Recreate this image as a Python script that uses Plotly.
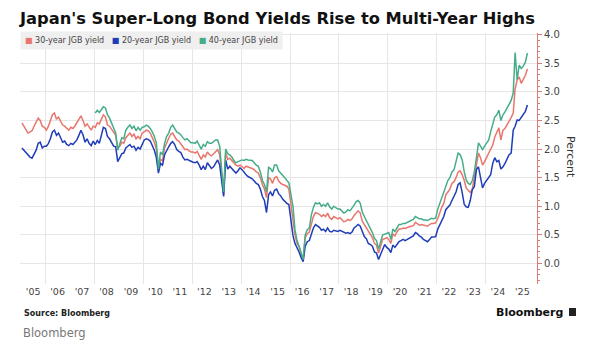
import plotly.graph_objects as go

# ---- data (monthly, mid-month) ----
yield_30y = [
    2.46, 2.40, 2.35, 2.28, 2.30, 2.32, 2.40, 2.48, 2.54, 2.50, 2.40, 2.38,  # 2005
    2.33, 2.40, 2.48, 2.60, 2.63, 2.52, 2.56, 2.48, 2.42, 2.40, 2.36, 2.33,  # 2006
    2.38, 2.36, 2.40, 2.46, 2.52, 2.58, 2.50, 2.40, 2.44, 2.38, 2.33, 2.40,  # 2007
    2.38, 2.46, 2.44, 2.52, 2.60, 2.56, 2.42, 2.40, 2.34, 2.30, 2.24, 2.02,  # 2008
    2.05, 2.12, 2.10, 2.20, 2.24, 2.28, 2.22, 2.26, 2.18, 2.22, 2.18, 2.28,  # 2009
    2.30, 2.33, 2.32, 2.28, 2.20, 2.12, 2.00, 1.62, 1.82, 1.80, 2.02, 2.12,  # 2010
    2.19, 2.26, 2.28, 2.22, 2.16, 2.14, 2.10, 2.04, 1.99, 2.00, 1.97, 1.95,  # 2011
    1.95, 1.93, 1.96, 1.90, 1.82, 1.90, 1.86, 1.95, 1.90, 1.88, 1.92, 1.95,  # 2012
    1.99, 1.90, 1.55, 1.20, 1.93, 1.82, 1.84, 1.80, 1.75, 1.72, 1.70, 1.72,  # 2013
    1.69, 1.66, 1.70, 1.69, 1.68, 1.66, 1.64, 1.60, 1.58, 1.50, 1.38, 1.30,  # 2014
    1.15, 1.50, 1.48, 1.40, 1.50, 1.52, 1.44, 1.40, 1.38, 1.36, 1.35, 1.30,  # 2015
    1.05, 0.75, 0.50, 0.35, 0.30, 0.15, 0.07, 0.45, 0.52, 0.55, 0.70, 0.82,  # 2016
    0.89, 0.87, 0.86, 0.82, 0.85, 0.82, 0.88, 0.80, 0.77, 0.82, 0.80, 0.78,  # 2017
    0.80, 0.76, 0.73, 0.74, 0.77, 0.75, 0.78, 0.84, 0.89, 0.92, 0.88, 0.74,  # 2018
    0.68, 0.62, 0.56, 0.52, 0.45, 0.35, 0.32, 0.18, 0.32, 0.42, 0.43, 0.45,  # 2019
    0.42, 0.35, 0.52, 0.48, 0.55, 0.60, 0.60, 0.62, 0.61, 0.63, 0.64, 0.65,  # 2020
    0.66, 0.72, 0.70, 0.67, 0.68, 0.67, 0.66, 0.65, 0.68, 0.70, 0.70, 0.71,  # 2021
    0.78, 0.90, 0.98, 1.05, 1.20, 1.25, 1.30, 1.40, 1.43, 1.50, 1.60, 1.62,  # 2022
    1.55, 1.45, 1.32, 1.28, 1.24, 1.30, 1.50, 1.69, 1.93, 1.85, 1.72, 1.78,  # 2023
    1.85, 1.93, 1.98, 2.07, 2.21, 2.30, 2.37, 2.16, 2.33, 2.36, 2.42, 2.47,  # 2024
    2.55, 2.63, 3.05, 3.21, 3.26, 3.15, 3.22, 3.29, 3.40,                    # 2025
]

yield_20y = [
    2.02, 1.98, 1.95, 1.90, 1.86, 1.84, 1.92, 1.98, 2.10, 2.12, 2.02, 2.05,  # 2005
    2.05, 2.10, 2.18, 2.30, 2.33, 2.24, 2.28, 2.20, 2.12, 2.14, 2.08, 2.06,  # 2006
    2.10, 2.08, 2.12, 2.16, 2.24, 2.33, 2.25, 2.12, 2.18, 2.10, 2.06, 2.14,  # 2007
    2.08, 2.15, 2.10, 2.25, 2.38, 2.36, 2.22, 2.18, 2.10, 2.05, 2.04, 1.78,  # 2008
    1.85, 1.92, 1.93, 2.02, 2.05, 2.08, 2.03, 2.05, 1.98, 2.03, 2.00, 2.08,  # 2009
    2.16, 2.18, 2.17, 2.14, 2.05, 1.98, 1.85, 1.58, 1.75, 1.72, 1.90, 1.98,  # 2010
    2.04, 2.10, 2.13, 2.08, 1.99, 1.96, 1.94, 1.86, 1.81, 1.82, 1.80, 1.78,  # 2011
    1.77, 1.76, 1.78, 1.72, 1.64, 1.70, 1.64, 1.76, 1.70, 1.66, 1.69, 1.74,  # 2012
    1.81, 1.72, 1.45, 1.17, 1.81, 1.65, 1.70, 1.66, 1.62, 1.58, 1.62, 1.67,  # 2013
    1.64, 1.58, 1.55, 1.52, 1.50, 1.48, 1.44, 1.40, 1.38, 1.30, 1.17, 1.10,  # 2014
    0.89, 1.20, 1.25, 1.18, 1.28, 1.30, 1.22, 1.18, 1.12, 1.08, 1.05, 1.03,  # 2015
    0.75, 0.48, 0.35, 0.28, 0.20, 0.10, 0.03, 0.30, 0.38, 0.40, 0.50, 0.62,  # 2016
    0.68, 0.65, 0.63, 0.58, 0.60, 0.56, 0.62, 0.56, 0.55, 0.58, 0.57, 0.56,  # 2017
    0.58, 0.56, 0.54, 0.53, 0.54, 0.52, 0.55, 0.62, 0.65, 0.68, 0.65, 0.55,  # 2018
    0.47, 0.43, 0.35, 0.33, 0.30, 0.20, 0.18, 0.07, 0.15, 0.25, 0.33, 0.28,  # 2019
    0.25, 0.19, 0.32, 0.28, 0.32, 0.38, 0.40, 0.42, 0.40, 0.42, 0.44, 0.45,  # 2020
    0.48, 0.54, 0.52, 0.48, 0.46, 0.42, 0.40, 0.38, 0.42, 0.46, 0.46, 0.47,  # 2021
    0.60, 0.68, 0.75, 0.82, 0.94, 0.98, 1.02, 1.10, 1.17, 1.25, 1.38, 1.41,  # 2022
    1.24, 1.03, 0.99, 0.98, 1.10, 1.29, 1.34, 1.64, 1.69, 1.52, 1.32, 1.40,  # 2023
    1.45, 1.52, 1.55, 1.75, 1.85, 1.78, 1.80, 1.65, 1.69, 1.75, 1.84, 1.90,  # 2024
    1.93, 2.33, 2.40, 2.51, 2.50, 2.55, 2.60, 2.66, 2.77,                    # 2025
]

yield_40y = [  # starts Jan 2008
    2.63, 2.68, 2.64, 2.70, 2.74, 2.72, 2.60, 2.54, 2.46, 2.38, 2.28, 1.98,  # 2008
    2.10, 2.20, 2.18, 2.33, 2.38, 2.42, 2.36, 2.40, 2.32, 2.38, 2.33, 2.38,  # 2009
    2.39, 2.42, 2.40, 2.36, 2.30, 2.22, 2.11, 1.65, 1.95, 1.90, 2.10, 2.22,  # 2010
    2.28, 2.38, 2.42, 2.36, 2.30, 2.28, 2.25, 2.20, 2.16, 2.18, 2.14, 2.11,  # 2011
    2.11, 2.10, 2.14, 2.07, 2.00, 2.08, 2.05, 2.13, 2.10, 2.10, 2.13, 2.16,  # 2012
    2.16, 2.05, 1.65, 1.25, 2.00, 1.92, 1.90, 1.86, 1.80, 1.76, 1.78, 1.80,  # 2013
    1.81, 1.80, 1.82, 1.81, 1.80, 1.80, 1.76, 1.72, 1.70, 1.60, 1.45, 1.38,  # 2014
    1.25, 1.68, 1.66, 1.60, 1.72, 1.72, 1.62, 1.58, 1.55, 1.50, 1.45, 1.41,  # 2015
    1.20, 0.99, 0.59, 0.40, 0.30, 0.18, 0.07, 0.50, 0.59, 0.62, 0.85, 0.98,  # 2016
    1.06, 1.04, 1.06, 1.00, 1.03, 1.00, 1.06, 0.99, 0.95, 1.00, 0.98, 0.95,  # 2017
    0.95, 0.91, 0.88, 0.90, 0.94, 0.92, 0.96, 1.02, 1.08, 1.10, 1.05, 0.90,  # 2018
    0.82, 0.75, 0.66, 0.60, 0.54, 0.44, 0.40, 0.25, 0.38, 0.50, 0.51, 0.53,  # 2019
    0.54, 0.42, 0.60, 0.56, 0.62, 0.68, 0.68, 0.70, 0.70, 0.72, 0.74, 0.75,  # 2020
    0.77, 0.82, 0.80, 0.78, 0.78, 0.76, 0.76, 0.75, 0.77, 0.79, 0.78, 0.79,  # 2021
    0.95, 1.05, 1.15, 1.25, 1.34, 1.45, 1.50, 1.60, 1.64, 1.78, 1.93, 1.90,  # 2022
    1.81, 1.60, 1.46, 1.40, 1.38, 1.45, 1.60, 1.84, 2.11, 2.05, 1.99, 2.05,  # 2023
    2.10, 2.16, 2.30, 2.42, 2.56, 2.60, 2.68, 2.50, 2.60, 2.65, 2.72, 2.77,  # 2024
    2.85, 2.98, 3.69, 3.21, 3.47, 3.41, 3.45, 3.52, 3.68,                    # 2025
]

months = [f"{y}-{m:02d}-15" for y in range(2005, 2026) for m in range(1, 13)]
dates_20_30 = months[:len(yield_20y)]
dates_40 = months[36:36 + len(yield_40y)]

year_ticks = [f"{y}-07-01" for y in range(2005, 2026)]
year_labels = [f"'{y % 100:02d}" for y in range(2005, 2026)]
grid_dates = [f"{y}-01-01" for y in range(2006, 2026, 2)]

series_names = ["30-year JGB yield", "20-year JGB yield", "40-year JGB yield"]
series_colors = ["#e8766d", "#1f3db8", "#46ad88"]

FONT = "DejaVu Sans"

# ---- figure ----
fig = go.Figure()
fig.add_trace(go.Scatter(x=dates_20_30, y=yield_30y, mode="lines", name=series_names[0],
                         line=dict(color=series_colors[0], width=1.5), showlegend=False))
fig.add_trace(go.Scatter(x=dates_20_30, y=yield_20y, mode="lines", name=series_names[1],
                         line=dict(color=series_colors[1], width=1.5), showlegend=False))
fig.add_trace(go.Scatter(x=dates_40, y=yield_40y, mode="lines", name=series_names[2],
                         line=dict(color=series_colors[2], width=1.5), showlegend=False))

W, H = 602, 348
L, R, T, B = 20, 65, 33, 64
pw, ph = W - L - R, H - T - B

def px(x):
    return (x - L) / pw

def py(y):
    return (H - B - y) / ph

legend_html = "&nbsp;&nbsp;&nbsp;".join(
    f"<span style='color:{c}'>■</span> {n}" for n, c in zip(series_names, series_colors)
)

annotations = [
    dict(text=legend_html, x=px(20), y=py(41), xref="paper", yref="paper",
         xanchor="left", yanchor="middle", showarrow=False, align="left",
         font=dict(size=8, color="#444", family=FONT),
         bgcolor="#efefef", borderpad=4),
    dict(text="Percent", x=px(571), y=py(157), xref="paper", yref="paper",
         xanchor="center", yanchor="middle", showarrow=False, textangle=90,
         font=dict(size=11, color="#333", family=FONT)),
    dict(text="<b>Source: Bloomberg</b>", x=px(22), y=py(313), xref="paper", yref="paper",
         xanchor="left", yanchor="middle", showarrow=False,
         font=dict(size=8, color="#222", family=FONT)),
    dict(text="<b>Bloomberg</b>", x=px(565), y=py(312), xref="paper", yref="paper",
         xanchor="right", yanchor="middle", showarrow=False,
         font=dict(size=11, color="#111", family=FONT)),
    dict(text="Bloomberg", x=px(21), y=py(333), xref="paper", yref="paper",
         xanchor="left", yanchor="middle", showarrow=False,
         font=dict(size=11.5, color="#777", family=FONT)),
]

shapes = [
    dict(type="rect", xref="paper", yref="paper",
         x0=px(569), x1=px(576), y0=py(316), y1=py(308),
         fillcolor="#222", line=dict(width=0)),
]

fig.update_layout(
    width=W, height=H,
    margin=dict(l=L, r=R, t=T, b=B),
    paper_bgcolor="white", plot_bgcolor="white",
    showlegend=False,
    title=dict(text="<b>Japan's Super-Long Bond Yields Rise to Multi-Year Highs</b>",
               x=20 / W, xref="container", xanchor="left",
               y=1 - 18 / H, yref="container", yanchor="middle",
               font=dict(size=16.3, color="#111", family=FONT)),
    annotations=annotations,
    shapes=shapes,
)

fig.update_xaxes(
    type="date",
    range=["2004-12-17", "2026-02-05"],
    tickmode="array", tickvals=year_ticks, ticktext=year_labels,
    showgrid=False, zeroline=False, showline=False, ticks="",
    tickfont=dict(size=9.5, color="#444", family=FONT),
    minor=dict(tickmode="array", tickvals=grid_dates, showgrid=True,
               gridcolor="#e6e6e6", gridwidth=1, ticks=""),
)

fig.update_yaxes(
    side="right",
    range=[-0.36, 4.03],
    tickmode="linear", tick0=0, dtick=0.5, tickformat=".1f",
    showgrid=True, gridcolor="#e6e6e6", gridwidth=1, zeroline=False,
    showline=True, linecolor="#e07a75", linewidth=1,
    ticks="outside", ticklen=4, tickcolor="#e07a75", tickwidth=1,
    minor=dict(dtick=0.1, ticks="outside", ticklen=2, tickcolor="#e07a75", showgrid=False),
    tickfont=dict(size=10, color="#444", family=FONT),
)

fig.write_html("out.html")
